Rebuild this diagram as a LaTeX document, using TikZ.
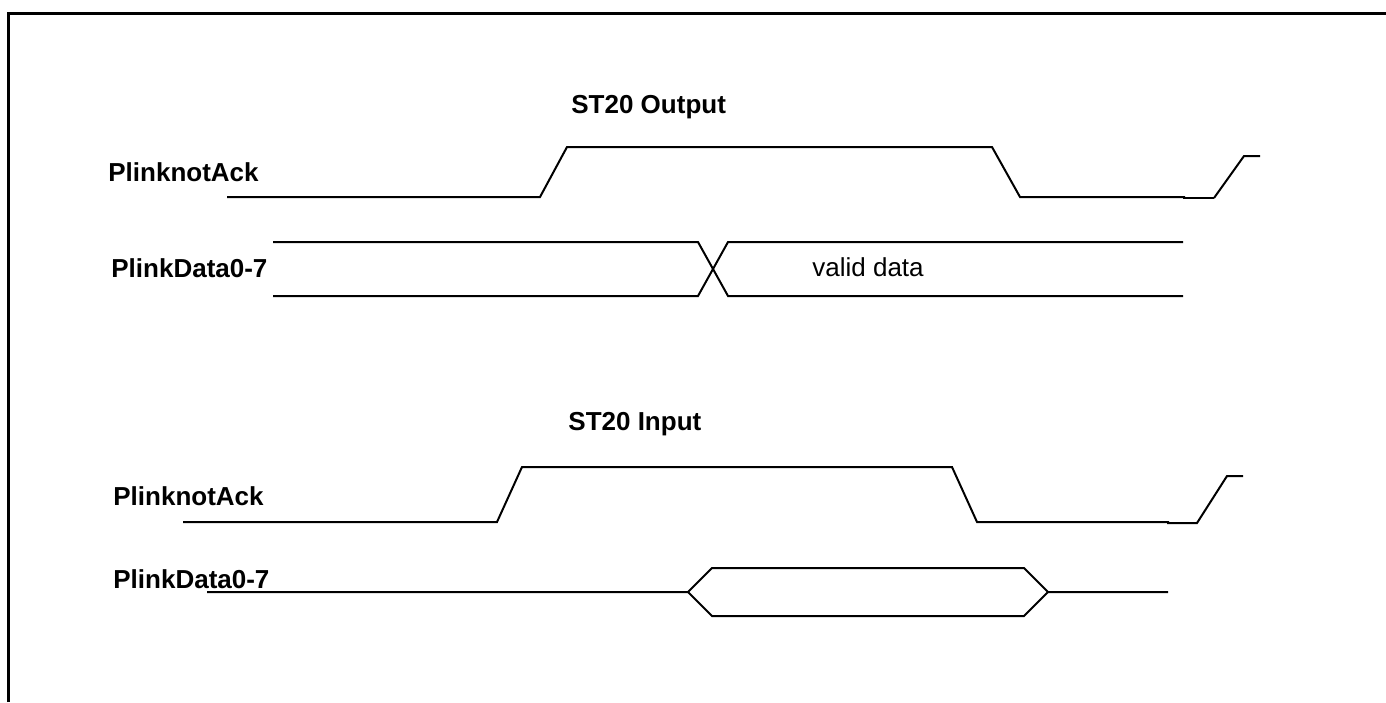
\documentclass[tikz,border=0pt]{standalone}
\usepackage{fontspec}
\setmainfont{Liberation Sans}

\tikzset{
  wave/.style={draw=black, line width=1pt, line join=miter},
  signame/.style={font=\fontsize{13}{15}\selectfont\bfseries, anchor=base west, inner sep=0pt},
  plaintext/.style={font=\fontsize{13}{15}\selectfont, anchor=base west, inner sep=0pt}
}

\begin{document}
\begin{tikzpicture}[x=0.5pt, y=-0.5pt]
  \useasboundingbox (0,0) rectangle (1386,702);
	\draw[draw=black, line width=1.5pt] (8,702) -- (8,13) -- (1386,13);

	% ST20 output
	\node[signame] (outTitle) at (571,113) {ST20 Output};
	\node[signame] (outAck) at (108,181) {PlinknotAck};
	\node[signame] (outData) at (111,277) {PlinkData0-7};
	\draw[wave] (227,197) -- (540,197) -- (567,147) -- (992,147) -- (1020,197) -- (1185,197);
	\draw[wave, line width=1.4pt] (1183,198) -- (1214,198);
	\draw[wave] (1214,198) -- (1244,156) -- (1260,156);
	\draw[wave] (273,242) -- (698,242) -- (728,296) -- (1183,296);
	\draw[wave] (273,296) -- (698,296) -- (728,242) -- (1183,242);
	\node[plaintext] (outValid) at (812,276) {valid data};

	% ST20 input
	\node[signame] (inTitle) at (568,430) {ST20 Input};
	\node[signame] (inAck) at (113,505) {PlinknotAck};
	\node[signame] (inData) at (113,588) {PlinkData0-7};
	\draw[wave] (183,522) -- (497,522) -- (522,467) -- (952,467) -- (977,522) -- (1169,522);
	\draw[wave] (1167,523) -- (1197,523) -- (1227,476) -- (1243,476);
	\draw[wave] (207,592) -- (688,592) -- (712,568) -- (1024,568) -- (1048,592) -- (1168,592);
	\draw[wave] (688,592) -- (712,616) -- (1024,616) -- (1048,592);
\end{tikzpicture}
\end{document}
